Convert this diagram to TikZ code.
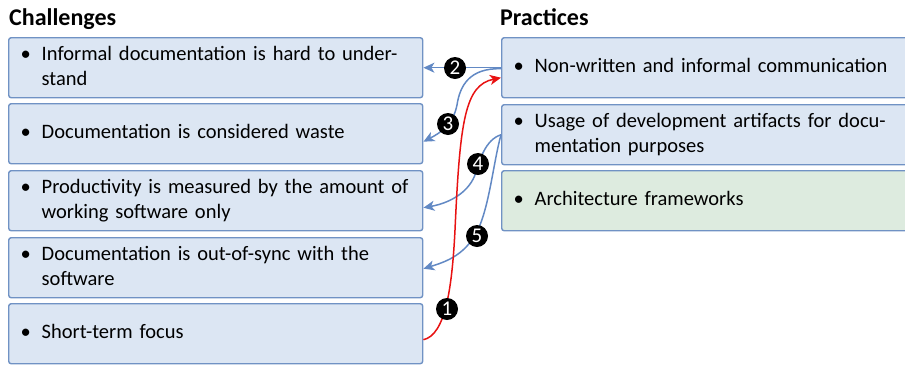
\documentclass[tikz,border=0pt]{standalone}
\usepackage{fontspec}
\setmainfont{Carlito}
\usetikzlibrary{arrows.meta,calc}
\definecolor{boxfill}{RGB}{220,230,243}
\definecolor{greenfill}{RGB}{221,235,223}
\definecolor{boxline}{RGB}{112,146,196}
\definecolor{linkblue}{RGB}{98,137,196}
\definecolor{linkred}{RGB}{232,18,18}
% one bulleted entry; extra lines are given as "\\ & text"
\newcommand{\bitem}[1]{\begin{tabular}{@{}p{21pt}@{}l@{}}\textbullet & #1\end{tabular}}
\begin{document}
\begin{tikzpicture}[x=1pt,y=-1pt,
  card/.style={draw=boxline,line width=1.4pt,fill=boxfill,rounded corners=2.5pt,
    anchor=north west,minimum height=60pt,text width=#1,inner xsep=12pt,
    inner ysep=0pt,align=left,font=\fontsize{20.5}{25}\selectfont},
  card/.default=390pt,
  heading/.style={anchor=base west,inner sep=0pt,font=\bfseries\fontsize{24}{25}\selectfont},
  link/.style={draw=linkblue,line width=1.5pt,-{Stealth[length=11pt,width=10pt,inset=3pt]}},
  redlink/.style={draw=linkred,line width=1.5pt,-{Stealth[length=11pt,width=10pt,inset=3pt]}},
  badge/.style={circle,fill=black,text=white,inner sep=0pt,minimum size=22pt,
    font=\fontsize{21}{21}\selectfont}]
\useasboundingbox (0,0) rectangle (905,365);

% column headings
\node[heading] (hc) at (9,25) {Challenges};
\node[heading] (hp) at (500,25) {Practices};

% challenges
\node[card] (c1) at (8,37)  {\bitem{Informal documentation is hard to under-\\ & stand}};
\node[card] (c2) at (8,103) {\bitem{Documentation is considered waste}};
\node[card] (c3) at (8,170) {\bitem{Productivity is measured by the amount of\\ & working software only}};
\node[card] (c4) at (8,237) {\bitem{Documentation is out-of-sync with the\\ & software}};
\node[card] (c5) at (8,303) {\bitem{Short-term focus}};

% practices
\node[card=383pt] (r1) at (501,37)  {\bitem{Non-written and informal communication}};
\node[card=383pt] (r2) at (501,104) {\bitem{Usage of development artifacts for docu-\\ & mentation purposes}};
\node[card=383pt,fill=greenfill] (r3) at (501,170) {\bitem{Architecture frameworks}};

% relations
\draw[link] (r1.west) -- (c1.east);
\draw[link] ([yshift=-1pt]r1.west) .. controls (470,68) and (460,85) .. (457,105)
  .. controls (453,125) and (440,133) .. ([yshift=-8pt]c2.east);
\draw[link] (r2.west) .. controls (485,140) and (480,160) .. (476,172)
  .. controls (470,192) and (450,203) .. ([yshift=-7pt]c3.east);
\draw[link] (r2.west) .. controls (494,160) and (490,200) .. (480,225)
  .. controls (468,255) and (445,262) .. ([yshift=-1pt]c4.east);
\draw[redlink] ([yshift=-6pt]c5.east) .. controls (445,335) and (452,290) .. (455,230)
  .. controls (460,120) and (465,85) .. ([yshift=-10pt]r1.west);

% numbered markers
\node[badge] (b2) at (455,68)  {2};
\node[badge] (b3) at (448,124) {3};
\node[badge] (b4) at (478,164) {4};
\node[badge] (b5) at (477,236) {5};
\node[badge] (b1) at (447,309) {1};
\end{tikzpicture}
\end{document}
